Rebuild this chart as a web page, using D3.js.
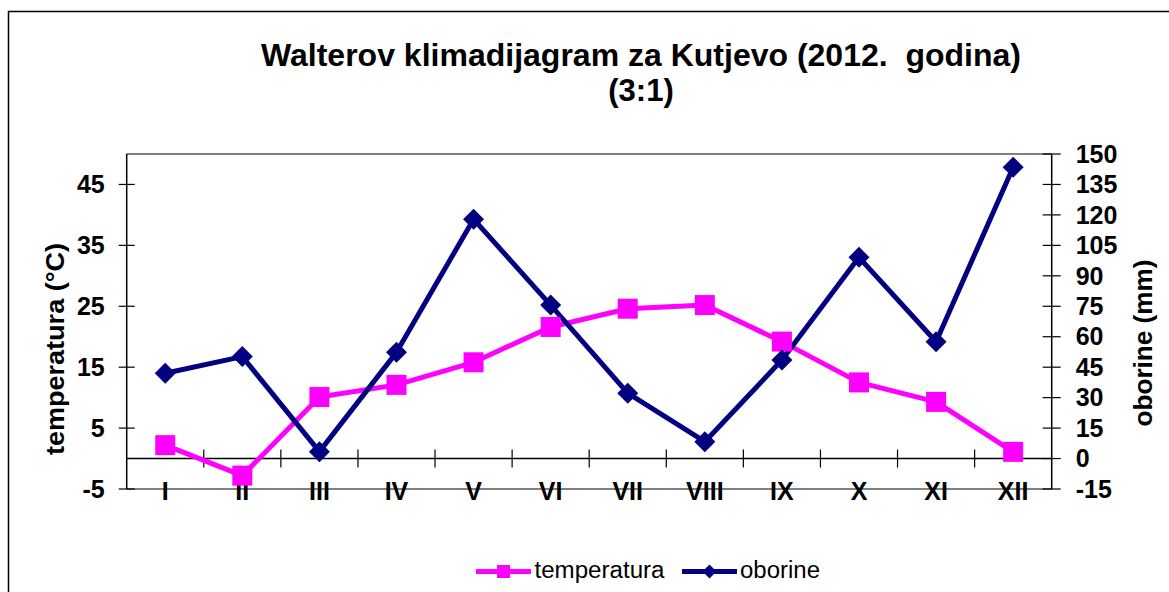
<!DOCTYPE html>
<html>
<head>
<meta charset="utf-8">
<script src="https://cdn.jsdelivr.net/npm/d3@7"></script>
<style>
  html, body { margin: 0; padding: 0; background: #fff; }
  svg { display: block; font-family: Arial, "Liberation Sans", sans-serif; }
</style>
</head>
<body>
<svg id="chart" width="1169" height="592"></svg>
<script>
// ---- data ----
const months = ["I","II","III","IV","V","VI","VII","VIII","IX","X","XI","XII"];
const temperatura = [2.2, -2.8, 10.1, 12.1, 15.8, 21.6, 24.6, 25.2, 19.2, 12.5, 9.3, 1.1];
const oborine = [42.0, 50.2, 3.4, 52.3, 117.9, 75.6, 32.2, 8.3, 48.5, 99.1, 57.5, 143.5];
const leftTicks = [-5, 5, 15, 25, 35, 45];
const rightTicks = [-15, 0, 15, 30, 45, 60, 75, 90, 105, 120, 135, 150];
const titleLine1 = "Walterov klimadijagram za Kutjevo (2012.  godina)";
const titleLine2 = "(3:1)";
const leftTitle = "temperatura (°C)";
const rightTitle = "oborine (mm)";
const seriesNames = ["temperatura", "oborine"];

const PINK = "#ff00ff", NAVY = "#000080";

const svg = d3.select("#chart");
const plot = { l: 126.7, r: 1051.7, t: 154, b: 489 };

const x = d3.scaleBand().domain(months).range([plot.l, plot.r]).padding(0);
const yL = d3.scaleLinear().domain([-5, 50]).range([plot.b, plot.t]);
const yR = d3.scaleLinear().domain([-15, 150]).range([plot.b, plot.t]);

// outer border
svg.append("rect").attr("x", 8.5).attr("y", 11.5).attr("width", 1300).attr("height", 800)
  .attr("fill", "none").attr("stroke", "#000").attr("stroke-width", 1.5);

// title
svg.append("text").attr("x", 641).attr("y", 66).attr("text-anchor", "middle")
  .attr("font-size", 31).attr("font-weight", "bold").style("white-space", "pre")
  .attr("textLength", 760).attr("lengthAdjust", "spacingAndGlyphs")
  .text(titleLine1);
svg.append("text").attr("x", 641).attr("y", 101).attr("text-anchor", "middle")
  .attr("font-size", 31).attr("font-weight", "bold").text(titleLine2);

// plot frame (gray top & bottom)
svg.append("line").attr("x1", plot.l).attr("x2", plot.r).attr("y1", plot.t).attr("y2", plot.t)
  .attr("stroke", "#808080").attr("stroke-width", 2);
svg.append("line").attr("x1", plot.l).attr("x2", plot.r).attr("y1", plot.b).attr("y2", plot.b)
  .attr("stroke", "#808080").attr("stroke-width", 2);

// left axis
svg.append("line").attr("x1", plot.l).attr("x2", plot.l).attr("y1", plot.t).attr("y2", plot.b)
  .attr("stroke", "#000").attr("stroke-width", 1.5);
const lt = svg.append("g").selectAll("g").data(leftTicks).join("g");
lt.append("line").attr("x1", plot.l - 8).attr("x2", plot.l + 8)
  .attr("y1", d => yL(d)).attr("y2", d => yL(d)).attr("stroke", "#000").attr("stroke-width", 1.2);
lt.append("text").attr("x", plot.l - 22).attr("y", d => yL(d)).attr("dy", "0.35em")
  .attr("text-anchor", "end").attr("font-size", 25).attr("font-weight", "bold").text(d => d);

// right axis
svg.append("line").attr("x1", plot.r).attr("x2", plot.r).attr("y1", plot.t).attr("y2", plot.b)
  .attr("stroke", "#000").attr("stroke-width", 1.5);
const rt = svg.append("g").selectAll("g").data(rightTicks).join("g");
rt.append("line").attr("x1", plot.r - 9).attr("x2", plot.r + 9)
  .attr("y1", d => yR(d)).attr("y2", d => yR(d)).attr("stroke", "#000").attr("stroke-width", 1.2);
rt.append("text").attr("x", plot.r + 24).attr("y", d => yR(d)).attr("dy", "0.35em")
  .attr("text-anchor", "start").attr("font-size", 25).attr("font-weight", "bold").text(d => d);

// zero line with category ticks
svg.append("line").attr("x1", plot.l).attr("x2", plot.r).attr("y1", yL(0)).attr("y2", yL(0))
  .attr("stroke", "#000").attr("stroke-width", 1.5);
svg.append("g").selectAll("line").data(months.slice(1)).join("line")
  .attr("x1", d => x(d)).attr("x2", d => x(d))
  .attr("y1", yL(0) - 9).attr("y2", yL(0) + 9).attr("stroke", "#000").attr("stroke-width", 1.2);

// category labels
svg.append("g").selectAll("text").data(months).join("text")
  .attr("x", d => x(d) + x.bandwidth() / 2).attr("y", 491).attr("dy", "0.35em")
  .attr("text-anchor", "middle").attr("font-size", 25).attr("font-weight", "bold").text(d => d);

// axis titles
svg.append("text").attr("transform", "translate(64,349) rotate(-90)")
  .attr("text-anchor", "middle").attr("font-size", 25).attr("font-weight", "bold")
  .attr("textLength", 212).attr("lengthAdjust", "spacingAndGlyphs").text(leftTitle);
svg.append("text").attr("transform", "translate(1152,343) rotate(-90)")
  .attr("text-anchor", "middle").attr("font-size", 25).attr("font-weight", "bold")
  .attr("textLength", 167).attr("lengthAdjust", "spacingAndGlyphs").text(rightTitle);

const cx = d => x(d) + x.bandwidth() / 2;

// temperature series
const lineT = d3.line().x((d, i) => cx(months[i])).y(d => yL(d));
svg.append("path").datum(temperatura).attr("d", lineT)
  .attr("fill", "none").attr("stroke", PINK).attr("stroke-width", 5).attr("stroke-linejoin", "round");

// precipitation series
const lineP = d3.line().x((d, i) => cx(months[i])).y(d => yR(d));
svg.append("path").datum(oborine).attr("d", lineP)
  .attr("fill", "none").attr("stroke", NAVY).attr("stroke-width", 5).attr("stroke-linejoin", "round");

// markers
svg.append("g").selectAll("rect").data(temperatura).join("rect")
  .attr("x", (d, i) => cx(months[i]) - 10).attr("y", d => yL(d) - 10)
  .attr("width", 20).attr("height", 20).attr("fill", PINK);
svg.append("g").selectAll("path").data(oborine).join("path")
  .attr("d", "M0,-10.5L10.5,0L0,10.5L-10.5,0Z")
  .attr("transform", (d, i) => `translate(${cx(months[i])},${yR(d)})`).attr("fill", NAVY);

// legend
const lg = svg.append("g");
lg.append("line").attr("x1", 476).attr("x2", 531).attr("y1", 571.5).attr("y2", 571.5)
  .attr("stroke", PINK).attr("stroke-width", 5);
lg.append("rect").attr("x", 497).attr("y", 565).attr("width", 13).attr("height", 13).attr("fill", PINK);
lg.append("text").attr("x", 534.5).attr("y", 578).attr("font-size", 23)
  .attr("textLength", 130).attr("lengthAdjust", "spacingAndGlyphs").text(seriesNames[0]);
lg.append("line").attr("x1", 682).attr("x2", 737).attr("y1", 571.5).attr("y2", 571.5)
  .attr("stroke", NAVY).attr("stroke-width", 5);
lg.append("path").attr("d", "M0,-7L7,0L0,7L-7,0Z").attr("transform", "translate(709.5,571.5)").attr("fill", NAVY);
lg.append("text").attr("x", 740).attr("y", 578).attr("font-size", 23)
  .attr("textLength", 80).attr("lengthAdjust", "spacingAndGlyphs").text(seriesNames[1]);
</script>
</body>
</html>
